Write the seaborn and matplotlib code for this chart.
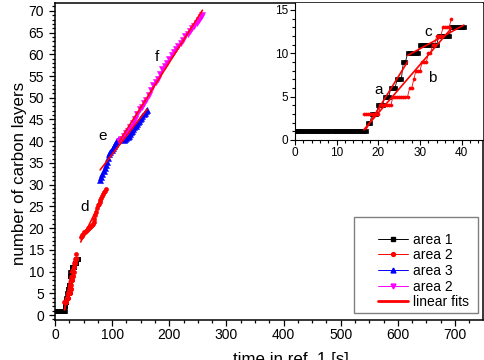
import numpy as np
import matplotlib
matplotlib.use("Agg")
import matplotlib.pyplot as plt
import matplotlib.patches as mpatches
from matplotlib.lines import Line2D
from matplotlib.ticker import MultipleLocator
import seaborn as sns

# area 1 (black squares): time [s] and number of layers
t1 = [0, 0.5, 1, 1.5, 2, 2.5, 3, 3.5, 4, 4.5, 5, 5.5, 6, 6.5, 7, 7.5, 8, 8.5,
      9, 9.5, 10, 10.5, 11, 11.5, 12, 12.5, 13, 13.5, 14, 14.5, 15, 15.5, 16, 16.5,
      17, 17.5, 18, 18.5, 19, 19.5, 20, 20.5, 21, 21.5, 22, 22.5, 23, 23.5, 24,
      24.5, 25, 25.5, 26, 26.5, 27, 27.5, 28, 28.5, 29, 29.5, 30, 30.5, 31, 31.5,
      32, 32.5, 33, 33.5, 34, 34.5, 35, 35.5, 36, 36.5, 37, 37.5, 38, 38.5, 39,
      39.5, 40, 40.5]
n1 = [1, 1, 1, 1, 1, 1, 1, 1, 1, 1, 1, 1, 1, 1, 1, 1, 1, 1,
      1, 1, 1, 1, 1, 1, 1, 1, 1, 1, 1, 1, 1, 1, 1, 1,
      1, 2, 2, 3, 3, 3, 4, 4, 4, 5, 5, 5, 6, 6, 6,
      7, 7, 7, 9, 9, 10, 10, 10, 10, 10, 10, 11, 11, 11, 11,
      11, 11, 11, 11, 11, 12, 12, 12, 12, 12, 12, 13, 13, 13, 13,
      13, 13, 13]

# area 2, first part (red circles)
t2a = [16.5, 17, 17.5, 18, 18.5, 19, 19.5, 20, 20.5, 21, 21.5, 22, 22.5, 23,
       23.5, 24, 24.5, 25, 25.5, 26, 26.5, 27, 27.5, 28, 28.5, 29, 29.5, 30,
       30.5, 31, 31.5, 32, 32.5, 33, 33.5, 34, 34.5, 35, 35.5, 36, 36.5, 37, 37.5]
n2a = [3, 3, 3, 3, 3, 3, 3, 3, 4, 4, 4, 4, 4, 4,
       5, 5, 5, 5, 5, 5, 5, 5, 6, 6, 7, 8, 8, 8,
       9, 9, 9, 10, 10, 11, 11, 12, 12, 12, 13, 13, 13, 13, 14]

# area 2, second part (red circles, "d")
t2b = [45, 46.5, 48, 49.5, 51, 52.5, 54, 55.5, 57, 58.5, 60, 61.5, 63, 64.5, 66,
       67.5, 69, 70.5, 72, 73.5, 75, 76.5, 78, 79.5, 81, 82.5, 84, 85.5, 87, 88.5]
n2b = [18, 18.2, 18.5, 18.7, 19, 19.2, 19.4, 19.6, 19.8, 20, 20.1, 20.3, 20.5,
       20.8, 21, 21.3, 22.2, 23.1, 23.8, 24.6, 25.2, 25.6, 26, 26.4, 27, 27.5,
       27.9, 28.2, 28.6, 29]

# area 3 (blue triangles, "e")
t3 = [79, 81, 83, 85, 87, 89, 91, 93, 95, 97, 99, 101, 103, 105, 107, 109, 111,
      113, 115, 117, 119, 121, 123, 125, 127, 129, 131, 133, 135, 137, 139, 141,
      143, 145, 147, 149, 151, 153, 155, 157, 159, 161]
n3 = [31, 31.8, 32.5, 33.2, 33.8, 34.5, 35.2, 36.2, 37, 37.5, 38, 38.5, 39, 39.4,
      39.8, 40.1, 40.3, 40.4, 40.5, 40.5, 40.4, 40.3, 40.4, 40.7, 41, 41.3, 41.6,
      42, 42.4, 42.8, 43.2, 43.6, 44, 44.3, 44.7, 45.1, 45.4, 45.8, 46.2, 46.6,
      47, 47.2]

# area 2, third part (magenta triangles, "f")
t4 = [112, 116, 120, 124, 128, 132, 136, 140, 144, 148, 152, 156, 160, 164, 168,
      172, 176, 180, 184, 188, 192, 196, 200, 204, 208, 212, 216, 220, 224, 228,
      232, 236, 240, 244, 248, 252, 256, 258]
n4 = [40.0, 40.6, 41.2, 41.8, 42.4, 43.3, 44.1, 45.2, 46.3, 47.3, 47.9, 48.7,
      49.5, 50.6, 51.8, 52.9, 53.6, 54.4, 55.5, 56.5, 57.3, 58.1, 58.9, 59.8,
      60.6, 61.3, 62.0, 62.6, 63.4, 64.1, 64.7, 65.4, 66.0, 66.6, 67.3, 67.9,
      68.6, 69.1]

legend_labels = ["area 1", "area 2", "area 3", "area 2", "linear fits"]

sns.set_style("ticks", rc={"axes.edgecolor": "black", "xtick.color": "black",
                           "ytick.color": "black", "text.color": "black",
                           "axes.labelcolor": "black"})
plt.rcParams["font.family"] = ["Liberation Sans", "DejaVu Sans"]

RED, BLUE, MAG = "#ff0000", "#0000ff", "#ff00ff"


def fit_line(t, n, lo, hi):
    t = np.asarray(t, float)
    n = np.asarray(n, float)
    m = (t >= lo) & (t <= hi)
    k, b = np.polyfit(t[m], n[m], 1)
    xs = np.array([t[m].min(), t[m].max()])
    return xs, k * xs + b


fits = [fit_line(t1, n1, 17, 27),      # a
        fit_line(t2a, n2a, 16, 38),    # b
        fit_line(t1, n1, 27, 41),      # c
        fit_line(t2b, n2b, 44, 90),    # d
        fit_line(t3, n3, 78, 162),     # e
        fit_line(t4, n4, 110, 260)]    # f


def draw_data(ax, small=False):
    k = 0.75 if small else 1.0
    sns.lineplot(x=t1, y=n1, ax=ax, color="black", lw=0.6, marker="s",
                 ms=2.8, mec="black", mew=0.5, sort=False, estimator=None)
    for tt, nn in [(t2a, n2a), (t2b, n2b)]:
        sns.lineplot(x=tt, y=nn, ax=ax, color=RED, lw=0.6, marker="o",
                     ms=3 * k, mec=RED, mew=0.4, sort=False, estimator=None)
    sns.lineplot(x=t3, y=n3, ax=ax, color=BLUE, lw=0.6, marker="^",
                 ms=4.2, mec=BLUE, mew=0.4, sort=False, estimator=None)
    sns.lineplot(x=t4, y=n4, ax=ax, color=MAG, lw=0.6, marker="v",
                 ms=4.0, mec=MAG, mew=0.4, sort=False, estimator=None)
    for xs, ys in fits:
        ax.plot(xs, ys, color=RED, lw=1.2, zorder=4)


fig = plt.figure(figsize=(4.85, 3.6), dpi=100)
ax = fig.add_axes([55 / 485, 40 / 360, 428 / 485, 317 / 360])
draw_data(ax)
ax.set_xlim(0, 749)
ax.set_ylim(-1.15, 71.8)
ax.xaxis.set_major_locator(MultipleLocator(100))
ax.xaxis.set_minor_locator(MultipleLocator(25))
ax.yaxis.set_major_locator(MultipleLocator(5))
ax.yaxis.set_minor_locator(MultipleLocator(1))
ax.tick_params(which="both", direction="out", width=0.9, labelsize=10)
ax.tick_params(which="major", length=4)
ax.tick_params(which="minor", length=2.3)
ax.tick_params(axis="x", pad=2)
ax.tick_params(axis="y", pad=4)
for s in ax.spines.values():
    s.set_linewidth(1.1)
ax.set_xlabel("time in ref. 1 [s]", fontsize=12.2)
ax.set_ylabel("number of carbon layers", fontsize=12.2)
ax.xaxis.set_label_coords(0.551, -0.101)
ax.yaxis.set_label_coords(-0.065, 0.462)

for txt, x, y in [("d", 52.5, 24.9), ("e", 84, 41.2), ("f", 178.6, 59.4)]:
    ax.text(x, y, txt, fontsize=11, ha="center", va="center")

# legend
ax.add_patch(mpatches.Rectangle((354 / 485, 1 - 313 / 360), 124 / 485, 96 / 360,
                                transform=fig.transFigure, facecolor="white",
                                edgecolor="#808080", lw=1, zorder=4, clip_on=False))
handles = [Line2D([], [], color="black", lw=0.7, marker="s", ms=2.5),
           Line2D([], [], color=RED, lw=0.7, marker="o", ms=2.8),
           Line2D([], [], color=BLUE, lw=0.7, marker="^", ms=3.5),
           Line2D([], [], color=MAG, lw=0.7, marker="v", ms=3.5),
           Line2D([], [], color=RED, lw=2)]
ax.legend(handles, legend_labels, loc="center left", frameon=False,
          bbox_to_anchor=(378 / 485, 1 - 271 / 360),
          bbox_transform=fig.transFigure, borderpad=0, borderaxespad=0,
          handlelength=2.16, handletextpad=0.36, labelspacing=0.12,
          fontsize=10, numpoints=1)

# inset
axi = fig.add_axes([295 / 485, 220 / 360, 188 / 485, 137 / 360])
draw_data(axi, small=True)
axi.set_xlim(0, 45.1)
axi.set_ylim(0, 15.8)
axi.xaxis.set_major_locator(MultipleLocator(10))
axi.xaxis.set_minor_locator(MultipleLocator(2))
axi.yaxis.set_major_locator(MultipleLocator(5))
axi.yaxis.set_minor_locator(MultipleLocator(1))
axi.tick_params(which="both", direction="out", width=0.8, labelsize=8.5, pad=1.5)
axi.tick_params(which="major", length=3.5)
axi.tick_params(which="minor", length=2)
axi.spines["top"].set_visible(False)
axi.spines["right"].set_visible(False)
axi.set_xlabel("")
axi.set_ylabel("")
for txt, x, y in [("a", 20.1, 5.8), ("b", 32.9, 7.2), ("c", 31.9, 12.5)]:
    axi.text(x, y, txt, fontsize=11, ha="center", va="center")

fig.savefig("out.png", dpi=100)
